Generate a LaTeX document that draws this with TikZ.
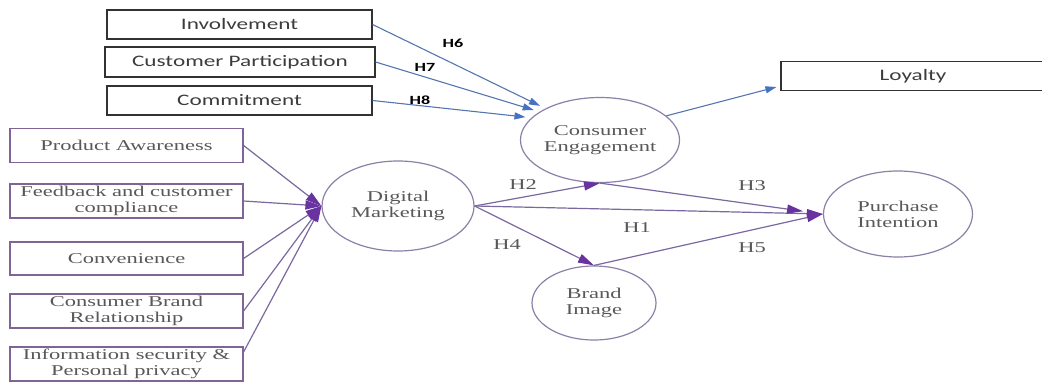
\documentclass[tikz,border=0pt]{standalone}
\usepackage{fontspec}
\newfontfamily\seriftext{Liberation Serif}[FakeStretch=1.5]
\newfontfamily\sanstext{Carlito}[FakeStretch=1.45]
\usetikzlibrary{shapes.geometric, arrows.meta, positioning}
\definecolor{linepurple}{RGB}{122, 104, 158}
\definecolor{headpurple}{RGB}{104, 50, 160}
\definecolor{ringgrey}{RGB}{140, 128, 168}
\definecolor{boxpurple}{RGB}{128, 100, 150}
\definecolor{textgrey}{RGB}{88, 88, 88}
\definecolor{sansgrey}{RGB}{60, 60, 60}
\definecolor{boxblack}{RGB}{50, 50, 50}
\definecolor{lineblue}{RGB}{84, 118, 176}
\definecolor{headblue}{RGB}{70, 114, 196}

\tikzset{
  factor/.style={draw=boxpurple, line width=1.2pt, minimum width=233pt, minimum height=34pt,
    inner sep=0pt, align=center, text=textgrey, font=\seriftext\fontsize{15}{16}\selectfont},
  driver/.style={draw=boxblack, line width=1.1pt, minimum width=265pt, minimum height=29pt,
    inner sep=0pt, text=sansgrey, font=\sanstext\fontsize{16}{18}\selectfont},
  construct/.style={ellipse, draw=ringgrey, line width=1.2pt, inner sep=0pt, align=center,
    text=textgrey, font=\seriftext\fontsize{15}{16}\selectfont},
  purplearrow/.style={draw=linepurple, line width=1.2pt, -{Triangle[length=16pt, width=9pt, color=headpurple]}},
  bluearrow/.style={draw=lineblue, line width=1.1pt, -{Triangle[length=11pt, width=7pt, color=headblue]}},
  hyp/.style={text=textgrey, font=\seriftext\fontsize{15}{16}\selectfont},
  hypbold/.style={text=black, font=\sanstext\bfseries\fontsize{12.5}{14}\selectfont},
}

\begin{document}
\begin{tikzpicture}[x=1pt, y=-1pt]
  \useasboundingbox (0,0) rectangle (1042,383);

  % engagement drivers and loyalty
  \node[driver] (inv) at (239.5,24.5) {Involvement};
  \node[driver, minimum width=270pt, minimum height=30pt] (cpart) at (240,62) {Customer Participation};
  \node[driver] (commit) at (239.5,100.5) {Commitment};
  \node[driver, minimum width=264pt] (loyal) at (913,76) {Loyalty};

  % digital marketing factors
  \node[factor] (pa) at (126.5,145.5) {Product Awareness};
  \node[factor] (fb) at (126.5,201) {Feedback and customer\\compliance};
  \node[factor, minimum height=33pt] (conv) at (126.5,258.5) {Convenience};
  \node[factor] (cbr) at (126.5,311) {Consumer Brand\\Relationship};
  \node[factor] (info) at (126.5,364) {Information security \&\\Personal privacy};

  % constructs
  \node[construct, minimum width=152pt, minimum height=90pt] (dm) at (398,206) {Digital\\Marketing};
  \node[construct, minimum width=143pt, minimum height=85pt] (ce) at (600,140) {Consumer\\Engagement};
  \node[construct, minimum width=124pt, minimum height=74pt] (bi) at (594,303) {Brand\\Image};
  \node[construct, minimum width=149pt, minimum height=86pt] (pi) at (898,214) {Purchase\\Intention};

  % drivers -> engagement
  \draw[bluearrow, shorten >=6pt] (inv.east) -- (ce.150);
  \draw[bluearrow, shorten >=6pt] (cpart.east) -- (ce.155);
  \draw[bluearrow, shorten >=6pt] (commit.east) -- (ce.162);
  \draw[bluearrow] (ce.20) -- ([xshift=-4pt, yshift=-11pt]loyal.west);

  % factors -> digital marketing
  \foreach \f in {pa, fb, conv, cbr}
    \draw[purplearrow] (\f.east) -- (dm.west);
  \draw[purplearrow] ([yshift=12pt]info.east) -- (dm.west);

  % hypotheses
  \draw[purplearrow] (dm.east) -- (ce.south);
  \draw[purplearrow] (dm.east) -- (bi.north);
  \draw[purplearrow] (dm.east) -- (pi.west);
  \draw[purplearrow, shorten >=20pt] (ce.south) -- (pi.west);
  \draw[purplearrow] (bi.north) -- (pi.west);

  \node[hyp] (h1) at (637,228) {H1};
  \node[hyp] (h2) at (523,185) {H2};
  \node[hyp] (h3) at (752,186) {H3};
  \node[hyp] (h4) at (507,245) {H4};
  \node[hyp] (h5) at (752,248) {H5};
  \node[hypbold] (h6) at (453,43) {H6};
  \node[hypbold] (h7) at (425,67) {H7};
  \node[hypbold] (h8) at (420,100) {H8};
\end{tikzpicture}
\end{document}
